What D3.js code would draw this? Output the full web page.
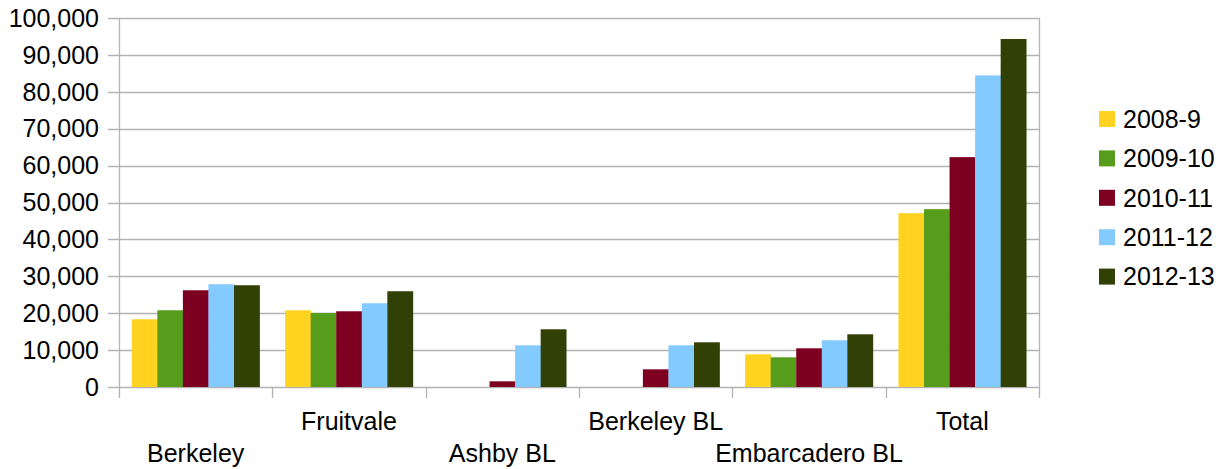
<!DOCTYPE html>
<html>
<head>
<meta charset="utf-8">
<script src="https://cdn.jsdelivr.net/npm/d3@7"></script>
<style>
  body { margin: 0; background: #fff; }
  text { font-family: "Liberation Sans", Arial, sans-serif; fill: #000; }
</style>
</head>
<body>
<div id="chart"></div>
<script>
const categories = ["Berkeley", "Fruitvale", "Ashby BL", "Berkeley BL", "Embarcadero BL", "Total"];
const seriesNames = ["2008-9", "2009-10", "2010-11", "2011-12", "2012-13"];
const values2008 = [18355, 20796, 0, 0, 8861, 47107];
const values2009 = [20796, 20072, 0, 0, 8047, 48192];
const values2010 = [26220, 20524, 1537, 4792, 10488, 62296];
const values2011 = [27848, 22694, 11302, 11302, 12658, 84448];
const values2012 = [27577, 25949, 15642, 12116, 14286, 94304];
const seriesValues = [values2008, values2009, values2010, values2011, values2012];
const seriesColors = ["#ffd320", "#579d1c", "#7e0021", "#83caff", "#314004"];
const yTicks = [0, 10000, 20000, 30000, 40000, 50000, 60000, 70000, 80000, 90000, 100000];

const width = 1225;
const height = 469;
const plot = {left: 119, right: 1039, top: 18, bottom: 387};
const gridColor = "#b3b3b3";
const fontSize = "25px";

const svg = d3.select("#chart").append("svg")
    .attr("width", width)
    .attr("height", height);

const x = d3.scaleBand()
    .domain(categories)
    .range([plot.left, plot.right])
    .paddingInner(0)
    .paddingOuter(0);

const xSub = d3.scaleBand()
    .domain(seriesNames)
    .range([0, x.bandwidth()])
    .paddingInner(0)
    .paddingOuter(0.5);

const y = d3.scaleLinear()
    .domain([0, 100000])
    .range([plot.bottom, plot.top]);

// gridlines
svg.append("g")
    .selectAll("line")
    .data(yTicks)
    .enter()
    .append("line")
    .attr("x1", plot.left - 11)
    .attr("x2", plot.right)
    .attr("y1", d => Math.round(y(d)) + 0.5)
    .attr("y2", d => Math.round(y(d)) + 0.5)
    .attr("stroke", gridColor)
    .attr("stroke-width", 1.3);

// y tick labels
const fmt = d3.format(",");
svg.append("g")
    .selectAll("text")
    .data(yTicks)
    .enter()
    .append("text")
    .attr("x", plot.left - 20)
    .attr("y", d => y(d))
    .attr("dy", "0.35em")
    .attr("text-anchor", "end")
    .style("font-size", fontSize)
    .text(d => fmt(d));

// bars
const rows = categories.map((c, i) => ({category: c, values: seriesValues.map((s, j) => ({name: seriesNames[j], value: s[i], color: seriesColors[j]}))}));

svg.append("g")
    .selectAll("g")
    .data(rows)
    .enter()
    .append("g")
    .attr("transform", d => `translate(${x(d.category)},0)`)
    .selectAll("rect")
    .data(d => d.values)
    .enter()
    .append("rect")
    .attr("x", d => xSub(d.name))
    .attr("width", xSub.bandwidth() + 0.3)
    .attr("y", d => y(d.value))
    .attr("height", d => y(0) - y(d.value))
    .attr("fill", d => d.color);

// axis frame lines
const boundaries = categories.map(c => x(c)).concat([plot.right]);
svg.append("g")
    .selectAll("line")
    .data(boundaries)
    .enter()
    .append("line")
    .attr("x1", d => Math.round(d) + 0.5)
    .attr("x2", d => Math.round(d) + 0.5)
    .attr("y1", (d, i) => (i === 0 || i === boundaries.length - 1) ? plot.top : plot.bottom)
    .attr("y2", plot.bottom + 11)
    .attr("stroke", gridColor)
    .attr("stroke-width", 1.3);

// x labels, staggered
svg.append("g")
    .selectAll("text")
    .data(categories)
    .enter()
    .append("text")
    .attr("x", d => x(d) + x.bandwidth() / 2)
    .attr("y", (d, i) => i % 2 === 0 ? 462 : 430)
    .attr("text-anchor", "middle")
    .style("font-size", fontSize)
    .text(d => d);

// legend
const legend = svg.append("g")
    .attr("transform", "translate(1099, 119)");

seriesNames.forEach((name, i) => {
    legend.append("rect")
        .attr("x", 0)
        .attr("y", i * 39.4 - 8)
        .attr("width", 16)
        .attr("height", 16)
        .attr("fill", seriesColors[i]);

    legend.append("text")
        .attr("x", 24)
        .attr("y", i * 39.4)
        .attr("dy", "0.35em")
        .style("font-size", fontSize)
        .text(name);
});
</script>
</body>
</html>
